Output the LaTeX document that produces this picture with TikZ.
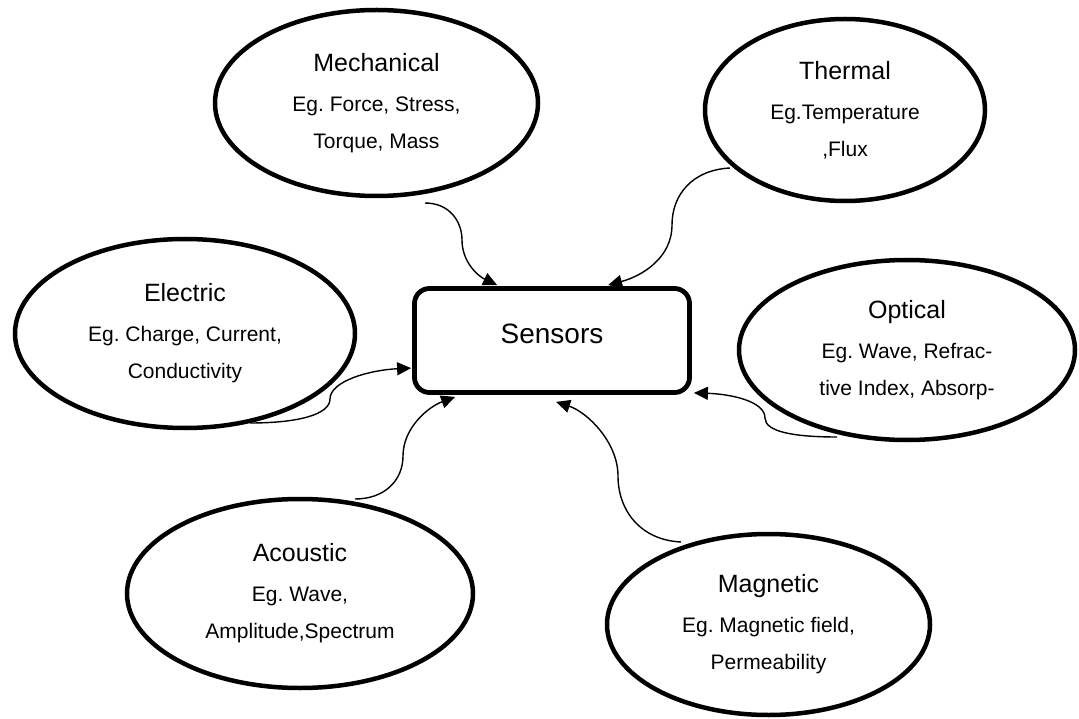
\documentclass[tikz,border=0pt]{standalone}
\usepackage{fontspec}
\setmainfont{Liberation Sans}
\usetikzlibrary{shapes.geometric,arrows.meta,calc}
\frenchspacing
\newcommand\cattext[3]{{\fontsize{25}{30}\selectfont #1}\\[3pt] #2\\ #3}
\begin{document}
\begin{tikzpicture}[x=1pt,y=-1pt,
  cat/.style={ellipse,draw,line width=4.5pt,inner sep=0pt,align=center,
    font=\fontsize{21}{37}\selectfont\frenchspacing},
  sensbox/.style={draw,line width=4.8pt,rounded corners=15pt,
    minimum width=275pt,minimum height=104pt,
    font=\fontsize{28}{34}\selectfont,text depth=14pt},
  conn/.style={line width=1.4pt,-{Triangle[length=14pt,width=13pt]}}]
\useasboundingbox (0,0) rectangle (1079,719);

% category ellipses
\node[cat,minimum width=323pt,minimum height=186pt] (mech) at (376.5,103)
  {\cattext{Mechanical}{Eg. Force, Stress,}{Torque, Mass}};
\node[cat,minimum width=280pt,minimum height=182pt] (therm) at (845,110)
  {\cattext{Thermal}{Eg.Temperature}{,Flux}};
\node[cat,minimum width=340pt,minimum height=189pt] (elec) at (185,333.5)
  {\cattext{Electric}{Eg. Charge, Current,}{Conductivity}};
\node[cat,minimum width=336pt,minimum height=180pt] (opt) at (907,350)
  {\cattext{Optical}{Eg. Wave, Refrac-}{tive Index, Absorp-}};
\node[cat,minimum width=346pt,minimum height=189pt] (acou) at (300,593.5)
  {\cattext{Acoustic}{Eg. Wave,}{Amplitude,Spectrum}};
\node[cat,minimum width=323pt,minimum height=181pt] (magn) at (768.5,624.5)
  {\cattext{Magnetic}{Eg. Magnetic field,}{Permeability}};

% central box
\node[sensbox] (sens) at (552,340.5) {Sensors};

% connector start points (just at the ellipses)
\coordinate (mechS) at (425,203);
\coordinate (thermS) at (730,168);
\coordinate (elecS) at (250,423);
\coordinate (optS) at (837,437);
\coordinate (acouS) at (355,499);
\coordinate (magnS) at (681,542);

% connectors
\draw[conn] (mechS) .. controls (450,203) and (462,222) .. (462,240)
  .. controls (462,262) and (478,276) .. ($(sens.north west)+(85,-1)$);
\draw[conn] (thermS) .. controls (692,170) and (672,195) .. (672,225)
  .. controls (672,258) and (642,276) .. ($(sens.north west)+(196,-1)$);
\draw[conn] (elecS) .. controls (300,423) and (330,414) .. (330,399)
  .. controls (330,381) and (370,370) .. ($(sens.north west)+(-1,82)$);
\draw[conn] (acouS) .. controls (385,499) and (403,480) .. (403,456)
  .. controls (403,428) and (428,407) .. ($(sens.south west)+(43,2)$);
\draw[conn] (magnS) .. controls (640,540) and (618,510) .. (618,476)
  .. controls (618,442) and (587,412) .. ($(sens.south west)+(144,7)$);
\draw[conn] (optS) .. controls (795,437) and (765,432) .. (765,418)
  .. controls (765,401) and (730,394) .. ($(sens.south east)+(2,-2)$);
\end{tikzpicture}
\end{document}
